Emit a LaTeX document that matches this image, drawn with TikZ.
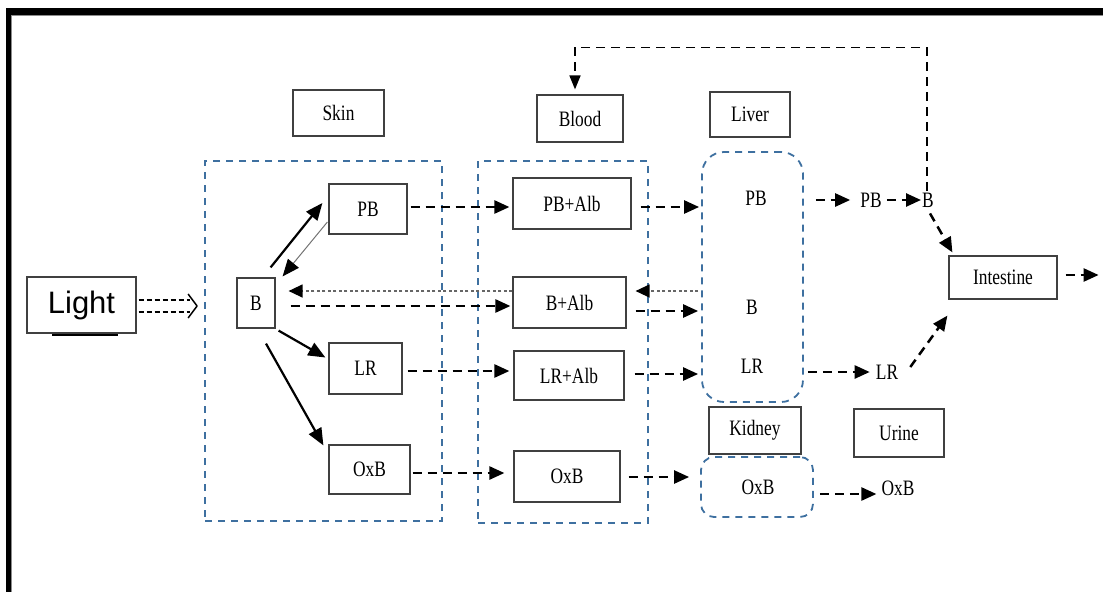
\documentclass[tikz,border=0pt]{standalone}
\usepackage{fontspec}
\setmainfont{Liberation Serif}[FakeStretch=0.79]
\newfontfamily\lightfont{Liberation Sans}
\usetikzlibrary{arrows.meta,calc}
\definecolor{contblue}{RGB}{62,112,160}
\newcommand\lbl{\fontsize{22}{25}\selectfont}
\tikzset{
  box/.style={draw=black!75, line width=1.2pt, inner sep=0pt, font=\lbl},
  txt/.style={inner sep=0pt, font=\lbl},
  cont/.style={draw=contblue, line width=1.8pt, dash pattern=on 7pt off 6pt, inner sep=0pt},
  dar/.style={draw=black, line width=2.5pt, dash pattern=on 9pt off 6pt, -{Triangle[length=15pt,width=13pt]}},
  loopar/.style={draw=black, line width=1.7pt, dash pattern=on 9pt off 6pt, -{Triangle[length=14pt,width=11pt]}},
  sar/.style={draw=black, line width=2.2pt, -{Triangle[length=17pt,width=14pt]}},
  thinar/.style={draw=black!55, line width=1pt, -{Triangle[length=17pt,width=14pt,color=black,fill=black]}},
  dotar/.style={draw=black!60, line width=1.3pt, dash pattern=on 3pt off 2.5pt, -{Triangle[length=14pt,width=13pt,color=black,fill=black]}},
  lightar/.style={draw=black, line width=1.7pt, dash pattern=on 5pt off 3pt},
}
\begin{document}
\begin{tikzpicture}[x=1pt,y=-1pt]
\useasboundingbox (0,0) rectangle (1103,592);
% frame
\fill[black] (6,8) rectangle (1103,15);
\fill[black] (6,8) rectangle (11,592);
\draw[black!45, line width=1pt] (1103,15.6) -- (11.6,15.6) -- (11.6,592);

% containers
\node[cont, minimum width=237, minimum height=360] (skin) at (323.5,341) {};
\node[cont, minimum width=170, minimum height=362] (blood) at (563,342) {};
\node[cont, rounded corners=22pt, minimum width=101, minimum height=250] (liver) at (752.5,277) {};
\node[cont, rounded corners=13pt, minimum width=112, minimum height=60] (kidney) at (757,487) {};

% label boxes
\node[box, minimum width=109, minimum height=56, font=\lightfont\fontsize{31}{34}\selectfont] (Light) at (81.5,305) {Light};
\node[box, minimum width=91, minimum height=46] (Skin) at (338.5,113) {Skin};
\node[box, minimum width=86, minimum height=47] (Blood) at (580,118.5) {Blood};
\node[box, minimum width=80, minimum height=45] (Liver) at (750,114.5) {Liver};
\node[box, minimum width=92, minimum height=47] (Kidney) at (755,430.5) {Kidney};
\node[box, minimum width=90, minimum height=48] (Urine) at (899,433) {Urine};
\node[box, minimum width=108, minimum height=43] (Intestine) at (1003,277.5) {Intestine};

% skin nodes
\node[box, minimum width=38, minimum height=50] (Bs) at (256,303) {B};
\node[box, minimum width=78, minimum height=50] (PBs) at (368,209) {PB};
\node[box, minimum width=73, minimum height=51] (LRs) at (365.5,368.5) {LR};
\node[box, minimum width=81, minimum height=49] (OxBs) at (369.5,469.5) {OxB};

% blood nodes
\node[box, minimum width=118, minimum height=51] (PBA) at (572,203.5) {PB+Alb};
\node[box, minimum width=113, minimum height=51] (BA) at (569.5,302.5) {B+Alb};
\node[box, minimum width=110, minimum height=49] (LRA) at (569,375.5) {LR+Alb};
\node[box, minimum width=106, minimum height=51] (OxBb) at (567,476.5) {OxB};

% free texts
\node[txt] (lPB) at (756,198) {PB};
\node[txt] (lB) at (752,307) {B};
\node[txt] (lLR) at (752,366) {LR};
\node[txt] (kOxB) at (758,487) {OxB};
\node[txt] (rPB) at (871,200) {PB};
\node[txt] (rB) at (928,200) {B};
\node[txt] (rLR) at (887,372) {LR};
\node[txt] (uOxB) at (898,488) {OxB};

% light shadow line
\draw[line width=1.6pt] ($(Light.south west)+(26,1.5)$) -- ($(Light.south east)+(-19,1.5)$);

% light arrow (double dashed with open head)
\draw[lightar] ($(Light.east)+(2,-5)$) -- ($(skin.west)+(-14,-41)$);
\draw[lightar] ($(Light.east)+(2,7)$) -- ($(skin.west)+(-14,-29)$);
\draw[black, line width=1.5pt, line join=round] ($(skin.west)+(-16,-47)$) -- ($(skin.west)+(-7,-35)$) -- ($(skin.west)+(-16,-23)$);

% skin solid arrows
\draw[sar] ($(Bs.north east)+(-5,-10)$) -- ($(PBs.west)+(-6,-6)$);
\draw[thinar] ($(PBs.west)+(-1,13)$) -- ($(Bs.north east)+(7,-1)$);
\draw[sar] ($(Bs.south east)+(3,2)$) -- ($(LRs.west)+(-3,-11)$);
\draw[sar] ($(Bs.south)+(10,15)$) -- ($(OxBs.north west)+(-5,1)$);

% skin <-> blood
\draw[dotar] ($(BA.west)+(0,-11.5)$) -- ($(Bs.east)+(13,-12)$);
\draw[dar] ($(Bs.east)+(15,3)$) -- ($(BA.west)+(-2,3.5)$);
\draw[dar] ($(PBs.east)+(3,-2)$) -- ($(PBA.west)+(-3,3.5)$);
\draw[dar] ($(LRs.east)+(5,2.5)$) -- ($(LRA.west)+(-4,-4.5)$);
\draw[dar] ($(OxBs.east)+(2,3.5)$) -- ($(OxBb.west)+(-9,-3.5)$);

% blood <-> liver / kidney
\draw[dar] ($(PBA.east)+(9,3.5)$) -- ($(PBA.east -| liver.west)+(-2,3.5)$);
\draw[dotar] ($(BA.east -| liver.west)+(-3,-11.5)$) -- ($(BA.east)+(9,-11.5)$);
\draw[dar] ($(BA.east)+(9,8.5)$) -- ($(BA.east -| liver.west)+(-3,8.5)$);
\draw[dar] ($(LRA.east)+(10,-1.5)$) -- ($(LRA.east -| liver.west)+(-3,-1.5)$);
\draw[dar] ($(OxBb.east)+(8,0.5)$) -- ($(OxBb.east -| kidney.west)+(-11,0.5)$);

% liver -> right
\draw[dar] ($(liver.east |- rPB)+(12,0)$) -- ($(rPB.west)+(-10,0)$);
\draw[dar] ($(rPB.east)+(5,0)$) -- ($(rB.west)+(-1,0)$);
\draw[dar] ($(rB.south)+(2,6)$) -- ($(Intestine.north west)+(4,-3)$);
\draw[dar] ($(liver.east |- rLR)+(4,0)$) -- ($(rLR.west)+(-6,0)$);
\draw[dar] ($(rLR.east)+(12,-5)$) -- ($(Intestine.south west)+(-1,16)$);
\coordinate (out) at ($(Intestine.east)+(41,-2.5)$);
\draw[dar] ($(Intestine.east)+(8,-2.5)$) -- (out);
\draw[dar] ($(kidney.east)+(6,7)$) -- ($(uOxB.west)+(-5,6)$);

% recirculation loop B -> Blood
\coordinate (top) at (0,47.5);
\draw[loopar] ($(rB.north)+(-1,-2)$) -- ($(rB.north |- top)+(-1,0)$) -- ($(Blood.north |- top)+(-5,0)$) -- ($(Blood.north)+(-5,-5)$);
\end{tikzpicture}
\end{document}
